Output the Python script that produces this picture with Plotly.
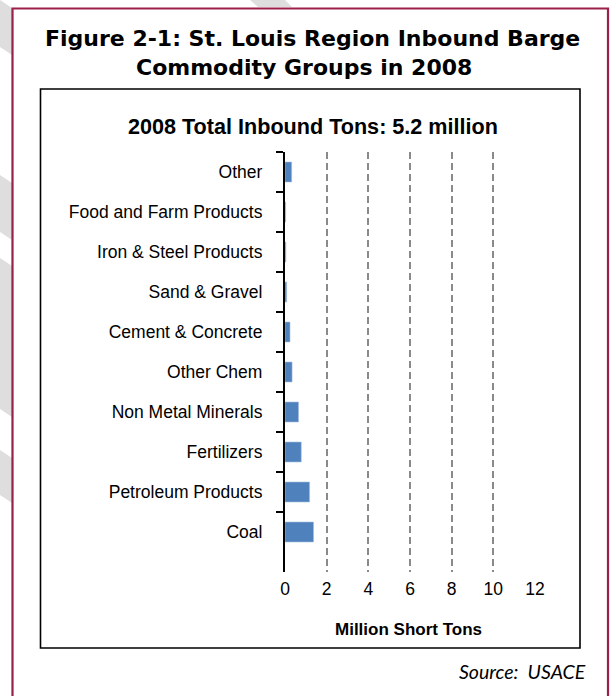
import plotly.graph_objects as go

# ---- data ----
categories = ["Other", "Food and Farm Products", "Iron & Steel Products", "Sand & Gravel",
              "Cement & Concrete", "Other Chem", "Non Metal Minerals", "Fertilizers",
              "Petroleum Products", "Coal"]
tons_million = [0.32, 0.03, 0.04, 0.08, 0.24, 0.34, 0.65, 0.78, 1.18, 1.37]
x_ticks = [0, 2, 4, 6, 8, 10, 12]

W, H = 611, 696
L, R, T, B = 285, 76, 152, 124
PW, PH = W - L - R, H - T - B


def px(x):
    return (x - L) / PW


def py(y):
    return (H - B - y) / PH


fig = go.Figure()
fig.add_trace(go.Bar(
    y=categories, x=tons_million, orientation="h",
    marker=dict(color="#4F81BD", line=dict(color="#A9C0DE", width=0.6)),
    hoverinfo="x+y",
))

chart_font = "Liberation Sans, Arial, sans-serif"
title_font = "DejaVu Sans, sans-serif"
source_font = "Lato, Open Sans, sans-serif"

shapes = []
# watermark stripes (left margin)
grey = "#DEDEDE"
for (y0, y1) in [(0, 55), (175, 240), (258, 350), (340, 417), (450, 503)]:
    shapes.append(dict(type="path", xref="paper", yref="paper",
                       path=f"M {px(0)},{py(y0)} L {px(12)},{py(y0+8)} L {px(12)},{py(y1)} L {px(0)},{py(y1-8)} Z",
                       fillcolor=grey, line=dict(width=0), layer="below"))
shapes.append(dict(type="path", xref="paper", yref="paper",
                   path=f"M {px(250)},{py(0)} L {px(285)},{py(0)} L {px(292)},{py(7)} L {px(258)},{py(7)} Z",
                   fillcolor=grey, line=dict(width=0), layer="below"))
# outer maroon frame (open at bottom)
shapes.append(dict(type="path", xref="paper", yref="paper",
                   path=f"M {px(12.5)},{py(700)} L {px(12.5)},{py(8.5)} L {px(608)},{py(8.5)} L {px(608)},{py(700)}",
                   line=dict(color="#9B1F48", width=2.2), layer="below"))
# inner chart box
shapes.append(dict(type="rect", xref="paper", yref="paper",
                   x0=px(40.5), x1=px(580), y0=py(648), y1=py(89),
                   line=dict(color="#000000", width=1.6), layer="below"))

annotations = [
    dict(text="<b>Figure 2-1: St. Louis Region Inbound Barge</b>", x=px(312), y=py(38),
         xref="paper", yref="paper", showarrow=False, xanchor="center", yanchor="middle",
         font=dict(family=title_font, size=22, color="#000")),
    dict(text="<b>Commodity Groups in 2008</b>", x=px(304), y=py(67),
         xref="paper", yref="paper", showarrow=False, xanchor="center", yanchor="middle",
         font=dict(family=title_font, size=22, color="#000")),
    dict(text="<b>2008 Total Inbound Tons: 5.2 million</b>", x=px(312.5), y=py(126),
         xref="paper", yref="paper", showarrow=False, xanchor="center", yanchor="middle",
         font=dict(family=chart_font, size=21.6, color="#000")),
    dict(text="<b>Million Short Tons</b>", x=px(408), y=py(629),
         xref="paper", yref="paper", showarrow=False, xanchor="center", yanchor="middle",
         font=dict(family=chart_font, size=17, color="#000")),
    dict(text="<i>Source:  USACE</i>", x=px(588), y=py(671),
         xref="paper", yref="paper", showarrow=False, xanchor="right", yanchor="middle",
         font=dict(family=source_font, size=19.5, color="#000")),
]

fig.update_layout(
    width=W, height=H,
    margin=dict(l=L, r=R, t=T, b=B, pad=0),
    paper_bgcolor="white", plot_bgcolor="white",
    showlegend=False, bargap=0.5,
    shapes=shapes, annotations=annotations,
    font=dict(family=chart_font, size=17.5, color="#000"),
)
fig.update_xaxes(
    range=[0, 12], tickvals=x_ticks, ticktext=[str(v) for v in x_ticks],
    showgrid=True, gridcolor="#8A8A8A", gridwidth=2, griddash="7px,4px",
    zeroline=False, showline=False, ticks="", ticklabelstandoff=4,
    tickfont=dict(family=chart_font, size=17.5, color="#000"),
)
fig.update_yaxes(
    categoryorder="array", categoryarray=categories, range=[10.0, -0.5],
    showline=True, linecolor="#000", linewidth=2.2, showgrid=False, zeroline=False,
    ticks="outside", ticklen=7, tickwidth=2, tickcolor="#000", tickson="boundaries",
    ticklabelstandoff=17,
    tickfont=dict(family=chart_font, size=17.5, color="#000"),
)

fig.write_html("out.html")
